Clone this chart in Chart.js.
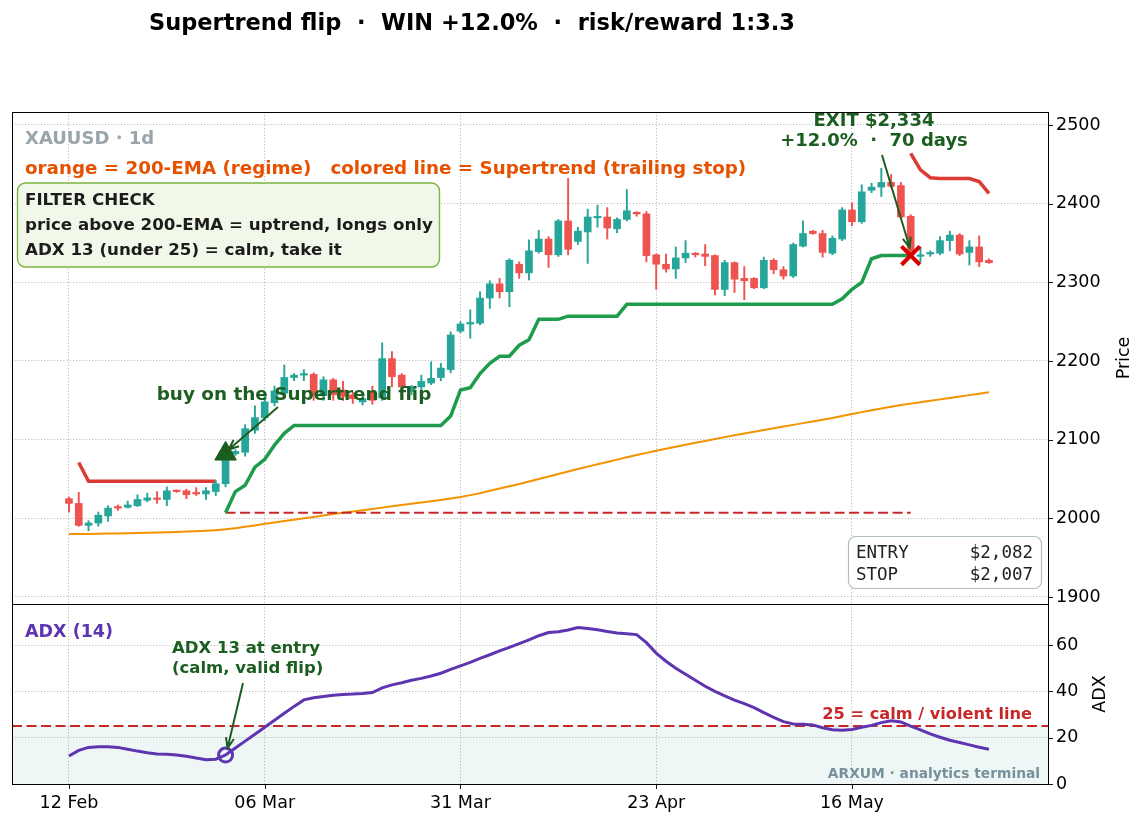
<!DOCTYPE html>
<html>
<head>
<meta charset="utf-8">
<title>Supertrend flip</title>
<script src="https://cdn.jsdelivr.net/npm/chart.js@4.4.1/dist/chart.umd.min.js"></script>
<style>
  body { margin: 0; background: #fff; }
  #wrap { position: relative; width: 1144px; height: 826px; }
  #wrap canvas { position: absolute; left: 0; top: 0; }
</style>
</head>
<body>
<div id="wrap">
  <canvas id="price-chart" width="1144" height="826"></canvas>
  <canvas id="adx-chart" width="1144" height="826"></canvas>
</div>
<script>
// daily candles, bar index 0..94
const opens = [
  2025, 2019, 1991, 1994, 2003, 2015, 2014, 2016, 2023, 2025,
  2024, 2035, 2035, 2032, 2031, 2034, 2044, 2082, 2084, 2112,
  2128, 2147, 2159, 2179, 2182, 2183, 2156, 2176, 2163, 2157,
  2148, 2160, 2153, 2203, 2182, 2161, 2167, 2172, 2179, 2189,
  2238, 2247, 2248, 2280, 2298, 2288, 2323, 2312, 2339, 2355,
  2335, 2378, 2352, 2364, 2382, 2383, 2368, 2380, 2389, 2387,
  2335, 2323, 2317, 2331, 2337, 2336, 2334, 2291, 2325, 2305,
  2305, 2293, 2328, 2316, 2308, 2346, 2365, 2362, 2337, 2355,
  2392, 2377, 2417, 2421, 2427, 2423, 2384, 2333, 2336, 2337,
  2353, 2360, 2338, 2345, 2328
];
const highs = [
  2027, 2033, 1997, 2008, 2016, 2017, 2022, 2030, 2032, 2034,
  2040, 2036, 2037, 2039, 2039, 2048, 2086, 2087, 2119, 2143,
  2157, 2168, 2195, 2184, 2189, 2185, 2180, 2178, 2174, 2160,
  2158, 2168, 2223, 2212, 2184, 2169, 2182, 2199, 2197, 2237,
  2250, 2265, 2288, 2302, 2305, 2330, 2326, 2354, 2366, 2358,
  2380, 2432, 2370, 2393, 2398, 2395, 2382, 2418, 2390, 2390,
  2336, 2336, 2345, 2353, 2338, 2348, 2335, 2328, 2326, 2320,
  2306, 2332, 2330, 2320, 2350, 2378, 2366, 2366, 2359, 2395,
  2401, 2424, 2426, 2445, 2437, 2427, 2386, 2345, 2340, 2358,
  2365, 2362, 2353, 2359, 2330
];
const lows = [
  2008, 1990, 1984, 1990, 1996, 2010, 2013, 2015, 2021, 2019,
  2016, 2033, 2025, 2029, 2024, 2029, 2040, 2080, 2079, 2108,
  2124, 2143, 2155, 2175, 2175, 2150, 2150, 2150, 2150, 2146,
  2144, 2145, 2150, 2167, 2163, 2157, 2163, 2170, 2175, 2185,
  2236, 2229, 2246, 2267, 2280, 2269, 2305, 2303, 2337, 2319,
  2333, 2335, 2348, 2324, 2370, 2355, 2363, 2378, 2384, 2326,
  2291, 2313, 2305, 2325, 2332, 2321, 2284, 2283, 2287, 2278,
  2292, 2292, 2311, 2304, 2306, 2345, 2361, 2332, 2335, 2353,
  2372, 2375, 2414, 2409, 2420, 2382, 2333, 2326, 2333, 2335,
  2340, 2334, 2322, 2320, 2324
];
const closes = [
  2019, 1991, 1994, 2004, 2013, 2013, 2017, 2024, 2026, 2024,
  2035, 2034, 2030, 2031, 2035, 2044, 2082, 2085, 2114, 2128,
  2148, 2162, 2179, 2182, 2184, 2157, 2176, 2157, 2155, 2152,
  2152, 2150, 2203, 2180, 2167, 2167, 2174, 2178, 2191, 2233,
  2247, 2249, 2280, 2298, 2288, 2328, 2312, 2340, 2355, 2335,
  2378, 2342, 2365, 2383, 2383, 2369, 2380, 2391, 2387, 2334,
  2323, 2317, 2331, 2337, 2335, 2333, 2291, 2325, 2304, 2302,
  2293, 2328, 2316, 2308, 2348, 2362, 2362, 2338, 2356, 2392,
  2377, 2415, 2421, 2427, 2422, 2383, 2335, 2334, 2338, 2353,
  2360, 2336, 2345, 2326, 2325
];

// 200-EMA (regime)
const ema200 = [
  1980.0, 1980.1, 1980.2, 1980.4, 1980.6, 1980.8, 1981.0, 1981.3, 1981.6, 1981.9,
  1982.3, 1982.7, 1983.1, 1983.6, 1984.2, 1985.0, 1986.0, 1987.5, 1989.2, 1991.0,
  1993.0, 1994.8, 1996.5, 1998.2, 2000.0, 2001.8, 2003.6, 2005.4, 2007.1, 2008.8,
  2010.4, 2012.0, 2013.6, 2015.3, 2017.0, 2018.6, 2020.2, 2021.8, 2023.4, 2025.2,
  2027.0, 2029.5, 2032.0, 2035.0, 2037.8, 2040.7, 2043.6, 2046.8, 2050.0, 2053.2,
  2056.4, 2059.6, 2062.7, 2065.7, 2068.7, 2071.7, 2074.6, 2077.6, 2080.5, 2083.2,
  2085.8, 2088.4, 2091.0, 2093.5, 2096.0, 2098.4, 2100.8, 2103.2, 2105.5, 2107.8,
  2110.0, 2112.2, 2114.4, 2116.6, 2118.8, 2121.0, 2123.2, 2125.3, 2127.5, 2130.0,
  2132.5, 2135.0, 2137.4, 2139.7, 2141.9, 2144.0, 2145.8, 2147.6, 2149.4, 2151.2,
  2153.0, 2154.8, 2156.6, 2158.4, 2160.2
];

// supertrend pieces: bearish band before the flip, bullish trailing stop, bearish after exit
const bear1Start = 1;
const superBear1 = [2071, 2047, 2047, 2047, 2047, 2047, 2047, 2047, 2047, 2047, 2047, 2047, 2047, 2047, 2047];
const bullStart = 16;
const superBull = [
  2007, 2034, 2042, 2065, 2075, 2093, 2108, 2118, 2118, 2118,
  2118, 2118, 2118, 2118, 2118, 2118, 2118, 2118, 2118, 2118,
  2118, 2118, 2118, 2130, 2163, 2166, 2184, 2197, 2206, 2206,
  2220, 2227, 2253, 2253, 2253, 2257, 2257, 2257, 2257, 2257,
  2257, 2272, 2272, 2272, 2272, 2272, 2272, 2272, 2272, 2272,
  2272, 2272, 2272, 2272, 2272, 2272, 2272, 2272, 2272, 2272,
  2272, 2272, 2272, 2279, 2291, 2300, 2330, 2334, 2334, 2334,
  2334
];
const bear2Start = 86;
const superBear2 = [2464, 2443, 2433, 2432, 2432, 2432, 2432, 2428, 2413];

// ADX (14)
const adx = [
  12.1, 14.5, 15.8, 16.1, 16.1, 15.8, 15.0, 14.2, 13.5, 13.0,
  12.8, 12.5, 12.0, 11.2, 10.5, 10.7, 12.5, 15.5, 18.5, 21.5,
  24.5, 27.5, 30.5, 33.5, 36.3, 37.2, 37.8, 38.3, 38.6, 38.8,
  39.1, 39.5, 41.5, 42.8, 43.7, 44.8, 45.6, 46.6, 47.8, 49.5,
  51.0, 52.5, 54.2, 55.8, 57.5, 59.0, 60.6, 62.2, 64.0, 65.4,
  65.7, 66.5, 67.5, 67.1, 66.6, 65.8, 65.2, 64.9, 64.5, 61.0,
  56.5, 53.0, 50.0, 47.4, 44.8, 42.2, 40.0, 38.0, 36.2, 34.7,
  33.0, 30.8, 28.8, 26.9, 25.9, 25.8, 25.5, 24.3, 23.4, 23.2,
  23.5, 24.5, 25.3, 26.5, 27.3, 26.8, 25.0, 23.4, 21.6, 20.2,
  18.9, 17.9, 16.9, 15.9, 15.0
];

// trade
const entryIdx = 16, entryPrice = 2082;
const exitIdx = 86, exitPrice = 2334;
const stopPrice = 2007;
const adxThreshold = 25;

const tickIdx = [0, 20, 40, 60, 80];
const tickLabels = ["12 Feb", "06 Mar", "31 Mar", "23 Apr", "16 May"];

const FONT = '"DejaVu Sans", sans-serif';
const MONO = '"DejaVu Sans Mono", monospace';
const UP = "#26a69a", DOWN = "#ef5350";
const ST_GREEN = "#1e9c4c", ST_RED = "#dc3b34";
const DARK_GREEN = "#1b5e20", PURPLE = "#5e35b1", DASH_RED = "#c62828";
const X_MIN = -5.82, X_MAX = 100.03;
const TICK_FONT = { family: FONT, size: 17.5 };

const pts = (start, arr) => arr.map((v, k) => ({ x: start + k, y: v }));
const candleColor = opens.map((o, i) => (closes[i] >= o ? UP : DOWN));

const gridStyle = { color: "#ababab", lineWidth: 0.8, drawTicks: false, offset: false };
const gridBorder = { display: false, dash: [1.2, 2] };

const xScale = (showLabels) => ({
  type: "linear",
  min: X_MIN,
  max: X_MAX,
  offset: false,
  afterBuildTicks: (s) => { s.ticks = tickIdx.map((v) => ({ value: v })); },
  afterFit: (s) => { s.height = showLabels ? 42 : 0; s.paddingLeft = 0; s.paddingRight = 0; },
  ticks: {
    display: showLabels,
    padding: 9,
    color: "#000",
    font: TICK_FONT,
    maxRotation: 0,
    callback: (v) => tickLabels[tickIdx.indexOf(v)] ?? ""
  },
  grid: gridStyle,
  border: gridBorder
});

function text(ctx, s, x, y, font, color, align) {
  ctx.font = font;
  ctx.fillStyle = color;
  ctx.textAlign = align || "left";
  ctx.textBaseline = "alphabetic";
  ctx.fillText(s, x, y);
}

function arrow(ctx, x1, y1, x2, y2, color) {
  const ang = Math.atan2(y2 - y1, x2 - x1);
  const h = 11;
  ctx.strokeStyle = color;
  ctx.lineWidth = 2;
  ctx.setLineDash([]);
  ctx.beginPath();
  ctx.moveTo(x1, y1);
  ctx.lineTo(x2, y2);
  ctx.moveTo(x2 - h * Math.cos(ang - 0.38), y2 - h * Math.sin(ang - 0.38));
  ctx.lineTo(x2, y2);
  ctx.lineTo(x2 - h * Math.cos(ang + 0.38), y2 - h * Math.sin(ang + 0.38));
  ctx.stroke();
}

function frameAndTicks(ctx, area, x, y, withXTicks) {
  ctx.save();
  ctx.strokeStyle = "#000";
  ctx.lineWidth = 1;
  ctx.setLineDash([]);
  ctx.strokeRect(area.left + 0.5, area.top + 0.5, area.right - area.left, area.bottom - area.top);
  ctx.lineWidth = 0.9;
  ctx.beginPath();
  y.ticks.forEach((t) => {
    const py = Math.round(y.getPixelForValue(t.value)) + 0.5;
    ctx.moveTo(area.right, py);
    ctx.lineTo(area.right + 5, py);
  });
  if (withXTicks) {
    x.ticks.forEach((t) => {
      const px = Math.round(x.getPixelForValue(t.value)) + 0.5;
      ctx.moveTo(px, area.bottom);
      ctx.lineTo(px, area.bottom + 5);
    });
  }
  ctx.stroke();
  ctx.restore();
}

const priceNotes = {
  id: "priceNotes",
  afterDraw(chart) {
    const { ctx, chartArea: a, scales: { x, y } } = chart;
    frameAndTicks(ctx, a, x, y, false);
    ctx.save();

    text(ctx, "Supertrend flip  \u00b7  WIN +12.0%  \u00b7  risk/reward 1:3.3", 472, 30, "bold 22.5px " + FONT, "#000", "center");
    text(ctx, "XAUUSD \u00b7 1d", 25, 144, "bold 18px " + FONT, "#9aa4ab");
    text(ctx, "orange = 200-EMA (regime)   colored line = Supertrend (trailing stop)", 25, 174, "bold 18.3px " + FONT, "#e65100");

    // filter check box
    ctx.beginPath();
    ctx.roundRect(17.5, 183, 422, 84, 8);
    ctx.fillStyle = "#f1f8e9";
    ctx.fill();
    ctx.strokeStyle = "#7cb342";
    ctx.lineWidth = 1.4;
    ctx.stroke();
    text(ctx, "FILTER CHECK", 25, 205, "bold 16.7px " + FONT, "#1c1c1c");
    text(ctx, "price above 200-EMA = uptrend, longs only", 25, 230, "bold 16.7px " + FONT, "#1c1c1c");
    text(ctx, "ADX 13 (under 25) = calm, take it", 25, 255, "bold 16.7px " + FONT, "#1c1c1c");

    // entry annotation
    const ex = x.getPixelForValue(entryIdx), ey = y.getPixelForValue(entryPrice);
    text(ctx, "buy on the Supertrend flip", 294, 400, "bold 18.4px " + FONT, DARK_GREEN, "center");
    arrow(ctx, 278, 407, ex + 3, ey - 4, DARK_GREEN);

    // exit annotation
    const xx = x.getPixelForValue(exitIdx), xy = y.getPixelForValue(exitPrice);
    text(ctx, "EXIT $2,334", 874, 126, "bold 18px " + FONT, DARK_GREEN, "center");
    text(ctx, "+12.0%  \u00b7  70 days", 874, 146, "bold 18px " + FONT, DARK_GREEN, "center");
    arrow(ctx, 882, 155, xx - 1, xy - 8, DARK_GREEN);

    // entry / stop box
    ctx.beginPath();
    ctx.roundRect(848.5, 536.5, 193, 52, 7);
    ctx.fillStyle = "rgba(255,255,255,0.95)";
    ctx.fill();
    ctx.strokeStyle = "#b0bec5";
    ctx.lineWidth = 1.2;
    ctx.stroke();
    text(ctx, "ENTRY", 856, 558, "17.5px " + MONO, "#222");
    text(ctx, "$2,082", 1033, 558, "17.5px " + MONO, "#222", "right");
    text(ctx, "STOP", 856, 580, "17.5px " + MONO, "#222");
    text(ctx, "$2,007", 1033, 580, "17.5px " + MONO, "#222", "right");

    // axis title
    ctx.save();
    ctx.translate(1123, (a.top + a.bottom) / 2);
    ctx.rotate(-Math.PI / 2);
    text(ctx, "Price", 0, 6, "17.5px " + FONT, "#000", "center");
    ctx.restore();

    ctx.restore();
  }
};

const adxNotes = {
  id: "adxNotes",
  beforeDraw(chart) {
    const { ctx, chartArea: a, scales: { y } } = chart;
    const top = y.getPixelForValue(adxThreshold);
    ctx.save();
    ctx.fillStyle = "#eef7f6";
    ctx.fillRect(a.left, top, a.right - a.left, a.bottom - top);
    ctx.restore();
  },
  beforeDatasetsDraw(chart) {
    const { ctx, chartArea: a, scales: { y } } = chart;
    const py = y.getPixelForValue(adxThreshold);
    ctx.save();
    ctx.strokeStyle = DASH_RED;
    ctx.lineWidth = 2;
    ctx.setLineDash([10, 4.5]);
    ctx.beginPath();
    ctx.moveTo(a.left, py);
    ctx.lineTo(a.right, py);
    ctx.stroke();
    ctx.restore();
  },
  afterDraw(chart) {
    const { ctx, chartArea: a, scales: { x, y } } = chart;
    frameAndTicks(ctx, a, x, y, true);
    ctx.save();
    text(ctx, "ADX (14)", 25, 637, "bold 17.5px " + FONT, PURPLE);
    text(ctx, "ADX 13 at entry", 172, 653, "bold 16.5px " + FONT, DARK_GREEN);
    text(ctx, "(calm, valid flip)", 172, 673, "bold 16.5px " + FONT, DARK_GREEN);
    const cx = x.getPixelForValue(entryIdx), cy = y.getPixelForValue(adx[entryIdx]);
    arrow(ctx, 243, 683, cx + 2, cy - 7, DARK_GREEN);
    text(ctx, "25 = calm / violent line", 1032, 719, "bold 16.2px " + FONT, DASH_RED, "right");
    text(ctx, "ARXUM \u00b7 analytics terminal", 1040, 778, "bold 13.8px " + FONT, "#78909c", "right");

    ctx.save();
    ctx.translate(1099, (a.top + a.bottom) / 2);
    ctx.rotate(-Math.PI / 2);
    text(ctx, "ADX", 0, 6, "17.5px " + FONT, "#000", "center");
    ctx.restore();
    ctx.restore();
  }
};

const baseOptions = {
  responsive: false,
  animation: false,
  events: [],
  plugins: { legend: { display: false }, tooltip: { enabled: false } }
};

new Chart(document.getElementById("price-chart"), {
  type: "bar",
  data: {
    datasets: [
      { type: "line", data: [{ x: exitIdx, y: exitPrice }], showLine: false, pointStyle: "crossRot",
        pointRadius: 13, pointBorderWidth: 4, pointBorderColor: "#d50000", order: 0 },
      { type: "line", data: [{ x: entryIdx, y: entryPrice }], showLine: false, pointStyle: "triangle",
        pointRadius: 12.5, pointBackgroundColor: DARK_GREEN, pointBorderColor: DARK_GREEN, pointBorderWidth: 1, order: 1 },
      { data: opens.map((o, i) => ({ x: i, y: [o, closes[i]] })), backgroundColor: candleColor,
        barThickness: 7, minBarLength: 1.5, grouped: false, borderWidth: 0, order: 2 },
      { data: opens.map((o, i) => ({ x: i, y: [lows[i], highs[i]] })), backgroundColor: candleColor,
        barThickness: 1.3, grouped: false, borderWidth: 0, order: 3 },
      { type: "line", data: pts(bear1Start, superBear1), borderColor: ST_RED, borderWidth: 3.5, pointRadius: 0, order: 4 },
      { type: "line", data: pts(bullStart, superBull), borderColor: ST_GREEN, borderWidth: 3.5, pointRadius: 0, order: 4 },
      { type: "line", data: pts(bear2Start, superBear2), borderColor: ST_RED, borderWidth: 3.5, pointRadius: 0, order: 4 },
      { type: "line", data: [{ x: entryIdx, y: stopPrice }, { x: exitIdx, y: stopPrice }], borderColor: DASH_RED,
        borderWidth: 2, borderDash: [10, 4.5], pointRadius: 0, order: 5 },
      { type: "line", data: pts(0, ema200), borderColor: "#f39200", borderWidth: 2, pointRadius: 0, order: 6 }
    ]
  },
  options: {
    ...baseOptions,
    layout: { autoPadding: false, padding: { left: 12, top: 112, right: 0, bottom: 222 } },
    scales: {
      x: xScale(false),
      y: {
        position: "right",
        min: 1891.1,
        max: 2516.5,
        afterFit: (s) => { s.width = 96; },
        ticks: { stepSize: 100, includeBounds: false, padding: 8, color: "#000",
          font: TICK_FONT, callback: (v) => String(v) },
        grid: gridStyle,
        border: gridBorder
      }
    }
  },
  plugins: [priceNotes]
});

new Chart(document.getElementById("adx-chart"), {
  type: "line",
  data: {
    datasets: [
      { data: [{ x: entryIdx, y: adx[entryIdx] }], showLine: false, pointRadius: 7, pointBorderWidth: 3,
        pointBorderColor: PURPLE, pointBackgroundColor: "rgba(0,0,0,0)", order: 0 },
      { data: pts(0, adx), borderColor: PURPLE, borderWidth: 3, pointRadius: 0, tension: 0, order: 1 }
    ]
  },
  options: {
    ...baseOptions,
    layout: { autoPadding: false, padding: { left: 12, top: 604, right: 0, bottom: 0 } },
    scales: {
      x: xScale(true),
      y: {
        position: "right",
        min: 0,
        max: 77.7,
        afterFit: (s) => { s.width = 96; },
        ticks: { stepSize: 20, includeBounds: false, padding: 8, color: "#000", font: TICK_FONT },
        grid: gridStyle,
        border: gridBorder
      }
    }
  },
  plugins: [adxNotes]
});
</script>
</body>
</html>
